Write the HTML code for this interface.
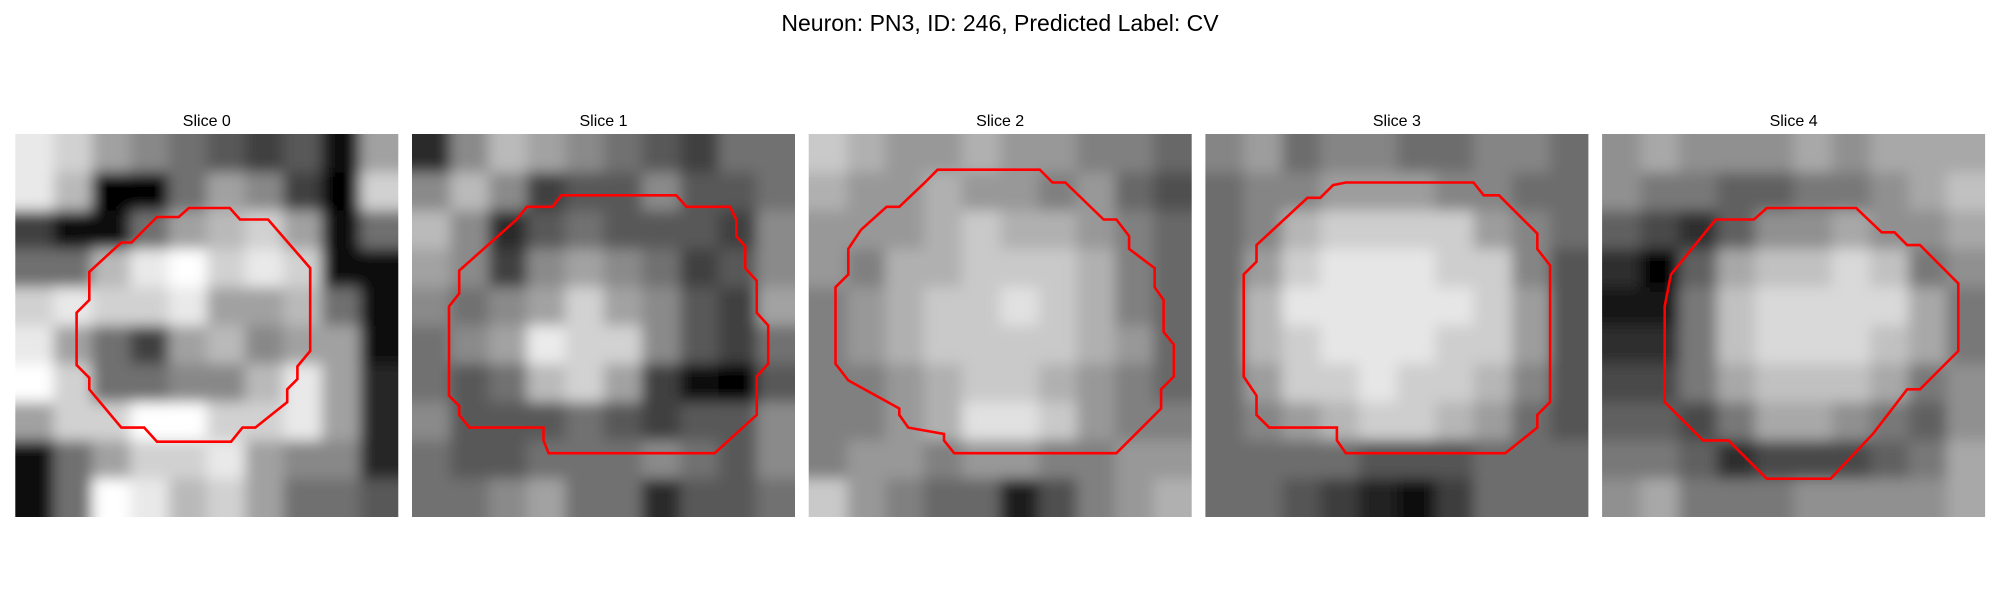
<!DOCTYPE html>
<html><head><meta charset="utf-8"><style>
body{margin:0;background:#fff;}
svg{display:block;font-family:"Liberation Sans",sans-serif;}
</style></head><body>
<svg id="fig" width="2000" height="600" viewBox="0 0 2000 600">
<rect width="2000" height="600" fill="#fff"/>
<text x="1000" y="31" font-size="23" text-anchor="middle">Neuron: PN3, ID: 246, Predicted Label: CV</text>
<defs><filter id="bl" x="-10%" y="-10%" width="120%" height="120%"><feGaussianBlur stdDeviation="7"/></filter></defs>
<g id="panels"></g>
</svg>
<script>
const sliceTitles = ["Slice 0","Slice 1","Slice 2","Slice 3","Slice 4"];
const img0 = [[0.75,0.7,0.6,0.55,0.5,0.45,0.4,0.45,0.3,0.6],[0.75,0.65,0.25,0.15,0.5,0.6,0.55,0.4,0.2,0.7],[0.4,0.3,0.3,0.5,0.6,0.65,0.7,0.6,0.3,0.5],[0.5,0.5,0.65,0.75,0.8,0.7,0.75,0.7,0.3,0.3],[0.7,0.75,0.7,0.7,0.75,0.6,0.6,0.65,0.5,0.3],[0.75,0.6,0.5,0.4,0.6,0.65,0.55,0.6,0.6,0.3],[0.8,0.7,0.5,0.5,0.55,0.55,0.65,0.75,0.6,0.35],[0.6,0.7,0.7,0.85,0.8,0.7,0.7,0.75,0.6,0.35],[0.3,0.5,0.6,0.7,0.7,0.75,0.6,0.55,0.55,0.35],[0.3,0.5,0.8,0.75,0.65,0.7,0.6,0.5,0.5,0.45]];
const img1 = [[0.3,0.5,0.6,0.55,0.5,0.45,0.4,0.35,0.45,0.45],[0.5,0.6,0.5,0.35,0.4,0.4,0.5,0.4,0.4,0.45],[0.6,0.5,0.3,0.4,0.45,0.4,0.4,0.4,0.35,0.5],[0.55,0.5,0.35,0.5,0.55,0.5,0.45,0.35,0.4,0.5],[0.5,0.45,0.5,0.55,0.65,0.55,0.5,0.4,0.35,0.55],[0.45,0.5,0.55,0.7,0.65,0.65,0.5,0.4,0.35,0.45],[0.45,0.4,0.45,0.6,0.65,0.55,0.35,0.25,0.2,0.4],[0.5,0.4,0.4,0.4,0.45,0.4,0.35,0.4,0.4,0.5],[0.45,0.4,0.4,0.45,0.45,0.45,0.5,0.45,0.4,0.5],[0.45,0.45,0.5,0.55,0.45,0.45,0.3,0.4,0.4,0.45]];
const img2 = [[0.7,0.65,0.6,0.6,0.65,0.6,0.6,0.55,0.55,0.5],[0.65,0.6,0.6,0.65,0.6,0.6,0.55,0.6,0.5,0.45],[0.6,0.6,0.6,0.65,0.7,0.65,0.65,0.6,0.55,0.5],[0.6,0.55,0.65,0.65,0.7,0.7,0.7,0.65,0.55,0.5],[0.55,0.6,0.65,0.7,0.7,0.75,0.7,0.65,0.55,0.5],[0.55,0.6,0.65,0.7,0.7,0.7,0.7,0.65,0.6,0.5],[0.55,0.55,0.6,0.65,0.7,0.7,0.65,0.6,0.55,0.5],[0.55,0.55,0.6,0.65,0.75,0.75,0.7,0.6,0.55,0.55],[0.55,0.6,0.6,0.55,0.6,0.6,0.55,0.55,0.6,0.6],[0.7,0.6,0.55,0.5,0.5,0.35,0.45,0.55,0.6,0.65]];
const img3 = [[0.55,0.6,0.5,0.55,0.55,0.5,0.5,0.55,0.55,0.5],[0.5,0.55,0.55,0.6,0.6,0.6,0.55,0.55,0.5,0.5],[0.5,0.55,0.65,0.7,0.7,0.7,0.7,0.6,0.55,0.5],[0.5,0.6,0.7,0.75,0.75,0.75,0.7,0.7,0.55,0.45],[0.5,0.65,0.75,0.75,0.75,0.75,0.75,0.7,0.6,0.45],[0.5,0.65,0.7,0.75,0.75,0.75,0.7,0.7,0.6,0.45],[0.5,0.6,0.7,0.7,0.75,0.7,0.7,0.65,0.55,0.45],[0.5,0.55,0.6,0.65,0.7,0.7,0.65,0.6,0.5,0.45],[0.5,0.5,0.5,0.5,0.45,0.45,0.45,0.5,0.5,0.5],[0.5,0.5,0.45,0.4,0.35,0.3,0.4,0.5,0.5,0.5]];
const img4 = [[0.55,0.6,0.55,0.55,0.55,0.6,0.55,0.6,0.6,0.6],[0.55,0.5,0.5,0.45,0.45,0.5,0.5,0.55,0.6,0.65],[0.45,0.4,0.35,0.45,0.55,0.55,0.6,0.55,0.55,0.6],[0.35,0.2,0.45,0.6,0.65,0.65,0.7,0.65,0.5,0.55],[0.3,0.3,0.5,0.65,0.7,0.7,0.7,0.7,0.6,0.5],[0.35,0.35,0.5,0.65,0.7,0.7,0.7,0.65,0.6,0.5],[0.4,0.4,0.5,0.6,0.65,0.65,0.65,0.6,0.5,0.55],[0.45,0.45,0.4,0.5,0.6,0.6,0.55,0.5,0.45,0.55],[0.5,0.5,0.45,0.35,0.4,0.4,0.4,0.45,0.5,0.6],[0.55,0.6,0.5,0.5,0.5,0.55,0.55,0.55,0.55,0.6]];
const contour0 = [[13.6,5.8],[16.8,5.8],[17.6,6.7],[19.8,6.7],[23.1,10.5],[23.1,17],[22.1,18.2],[22.1,19.2],[21.3,20],[21.3,21],[18.8,23],[17.8,23],[16.9,24.1],[11.1,24.1],[10.1,23],[8.3,23],[5.8,20],[5.8,19.1],[4.8,18.1],[4.8,14],[5.8,13],[5.8,10.8],[8.3,8.5],[9.1,8.5],[11.1,6.5],[12.8,6.5]];
const contour1 = [[11.7,4.8],[20.7,4.8],[21.5,5.7],[24.9,5.7],[25.4,6.7],[25.4,8],[26.1,8.8],[26.1,10.5],[27,11.5],[27,14],[27.9,15],[27.9,18],[27,19],[27,22],[23.7,25],[10.7,25],[10.3,24],[10.3,23],[4.5,23],[3.7,22],[3.7,21.3],[2.9,20.5],[2.9,13.5],[3.7,12.5],[3.7,10.7],[8.2,6.7],[9,5.7],[11,5.7]];
const contour2 = [[10.1,2.8],[18.1,2.8],[19.1,3.8],[20.1,3.8],[23.1,6.7],[24.1,6.7],[25.1,8],[25.1,9],[27.1,10.5],[27.1,12],[27.8,13],[27.8,15.5],[28.6,16.5],[28.6,19],[27.6,20],[27.6,21.5],[24.1,25],[11.4,25],[10.6,24],[10.6,23.5],[7.8,23],[7.1,22],[7.1,21.5],[3.1,19.3],[2.1,18],[2.1,12],[3.1,11],[3.1,9],[4.1,7.5],[6.1,5.7],[7.1,5.7],[9.1,3.8]];
const contour3 = [[11,3.8],[21,3.8],[21.8,4.8],[23,4.8],[26,7.8],[26,9],[27,10.3],[27,21],[26,22],[26,23],[23.5,25],[11,25],[10.3,24],[10.3,23],[5,23],[4,22],[4,20.5],[3,19],[3,11],[4,10],[4,8.7],[8,5],[9,5],[10,4]];
const contour4 = [[12.9,5.8],[19.9,5.8],[21.9,7.7],[22.9,7.7],[23.9,8.7],[24.9,8.7],[27.9,11.7],[27.9,17],[24.9,20],[23.9,20],[21.2,23.5],[17.9,27],[12.9,27],[9.9,24],[7.9,24],[4.9,21],[4.9,13.5],[5.4,11],[8.9,6.7],[11.9,6.7]];
const images=[img0,img1,img2,img3,img4];
const contours=[contour0,contour1,contour2,contour3,contour4];

const NS="http://www.w3.org/2000/svg";
const g=document.getElementById('panels');
const PX0=15.3, STEP=396.7, PY0=134, SIZE=383, NPIX=30, GAIN=1.9;
function sx(i,v){return PX0+i*STEP+v*SIZE/NPIX;}
function sy(v){return PY0+v*SIZE/NPIX;}
function mk(t){return document.createElementNS(NS,t);}
images.forEach((im,i)=>{
  const pg=mk('g');
  
  
  const cp=mk('clipPath'); cp.id='cp'+i;
  const cr=mk('rect'); cr.setAttribute('x',sx(i,0)); cr.setAttribute('y',sy(0)); cr.setAttribute('width',SIZE); cr.setAttribute('height',SIZE);
  cp.appendChild(cr); pg.appendChild(cp);
  const ig=mk('g'); ig.setAttribute('clip-path','url(#cp'+i+')');
  const inner=mk('g'); inner.setAttribute('filter','url(#bl)');
  
  
  const n=im.length, cs=NPIX/n;
  let sum=0; im.forEach(r=>r.forEach(v=>sum+=v)); const mean=sum/(n*n);
  im.forEach((row,r)=>row.forEach((v,c)=>{
    const rc=mk('rect');
    const x0=c===0?-3:c*cs, y0=r===0?-3:r*cs, x1=c===n-1?NPIX+3:(c+1)*cs, y1=r===n-1?NPIX+3:(r+1)*cs;
    rc.setAttribute('x',sx(i,x0)); rc.setAttribute('y',sy(y0));
    rc.setAttribute('width',sx(i,x1)-sx(i,x0)+0.5); rc.setAttribute('height',sy(y1)-sy(y0)+0.5);
    const vv=Math.max(0,Math.min(1,mean+(v-mean)*GAIN));
    const gv=Math.round(vv*255); rc.setAttribute('fill','rgb('+gv+','+gv+','+gv+')');
    inner.appendChild(rc);
  }));
  ig.appendChild(inner); pg.appendChild(ig);
  const pl=mk('polygon');
  
  
  pl.setAttribute('points',contours[i].map(p=>sx(i,p[0]).toFixed(1)+','+sy(p[1]).toFixed(1)).join(' '));
  pl.setAttribute('fill','none'); pl.setAttribute('stroke','#ff0000'); pl.setAttribute('stroke-width','2.6');
  pg.appendChild(pl);
  const t=mk('text');
  
  
  t.setAttribute('x',sx(i,NPIX/2)); t.setAttribute('y',126); t.setAttribute('font-size','16'); t.setAttribute('text-anchor','middle');
  t.textContent=sliceTitles[i];
  pg.appendChild(t);
  g.appendChild(pg);
});
</script>
</body></html>
